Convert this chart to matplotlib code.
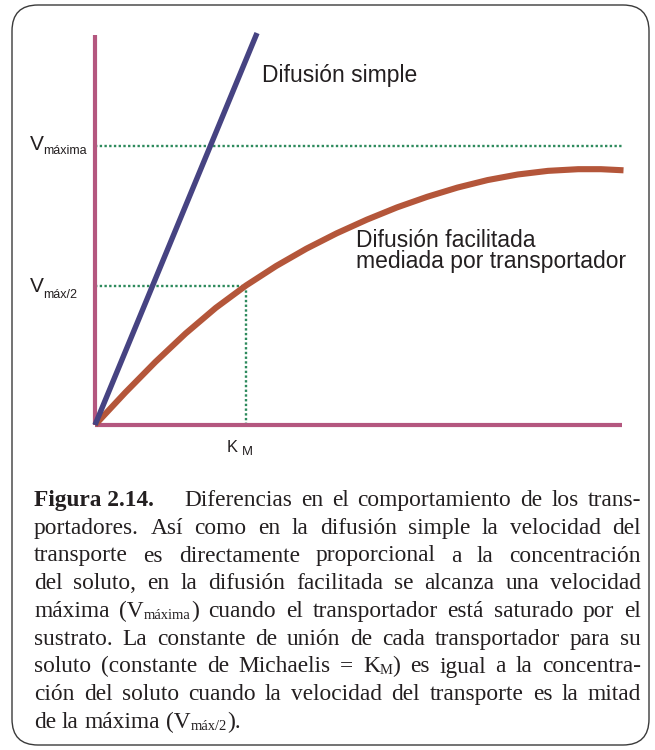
import matplotlib
matplotlib.use("Agg")
import matplotlib.pyplot as plt
from matplotlib.patches import FancyBboxPatch
from matplotlib.font_manager import FontProperties

# ---- data ----
conc_simple = [0.0, 1.073]
vel_simple = [0.0, 1.405]

conc_facil = [0.0, 0.2, 0.4, 0.6, 0.8, 1.0, 1.2, 1.4, 1.6, 1.8, 2.0,
              2.2, 2.4, 2.6, 2.8, 3.0, 3.2, 3.35, 3.5]
vel_facil = [0.0, 0.116, 0.226, 0.328, 0.420, 0.500, 0.570, 0.632, 0.687, 0.736, 0.780,
             0.818, 0.851, 0.878, 0.898, 0.911, 0.917, 0.917, 0.913]

v_max = 1.0
v_half = 0.5
k_m = 1.0
x_max = 3.49
y_max = 1.398

label_simple = "Difusión simple"
label_facil = ["Difusión facilitada", "mediada por transportador"]

# caption: each line is a list of words, each word a list of (text, style)
caption = [
    [[("Figura 2.14.", "b")], [("Diferencias", "n")], [("en", "n")], [("el", "n")], [("comportamiento", "n")],
     [("de", "n")], [("los", "n")], [("trans-", "n")]],
    "portadores. Así como en la difusión simple la velocidad del",
    "transporte es directamente proporcional a la concentración",
    "del soluto, en la difusión facilitada se alcanza una velocidad",
    [[("máxima", "n")], [("(V", "n"), ("máxima", "s"), (")", "n")], [("cuando", "n")], [("el", "n")],
     [("transportador", "n")], [("está", "n")], [("saturado", "n")], [("por", "n")], [("el", "n")]],
    "sustrato. La constante de unión de cada transportador para su",
    [[("soluto", "n")], [("(constante", "n")], [("de", "n")], [("Michaelis", "n")], [("=", "n")],
     [("K", "n"), ("M", "s"), (")", "n")], [("es", "n")], [("igual", "n")], [("a", "n")], [("la", "n")],
     [("concentra-", "n")]],
    "ción del soluto cuando la velocidad del transporte es la mitad",
    [[("de", "n")], [("la", "n")], [("máxima", "n")], [("(V", "n"), ("máx/2", "s"), (").", "n")]],
]

# ---- colours ----
pink = "#b4577f"
blue = "#464382"
orange = "#b4563a"
green = "#2d8a5c"
ink = "#231f20"

W, H = 655, 750
fig = plt.figure(figsize=(W / 100, H / 100), dpi=100)

# background layer in pixel coordinates (frame + caption)
bg = fig.add_axes([0, 0, 1, 1])
bg.set_xlim(0, W)
bg.set_ylim(H, 0)
bg.axis("off")
frame = FancyBboxPatch((12, 5), 637, 740, boxstyle="round,pad=0,rounding_size=26",
                       fc="white", ec="#3a3a3a", lw=1.0)
bg.add_patch(frame)

# ---- chart ----
ax = fig.add_axes([95 / W, (H - 425) / H, 527 / W, 390 / H])
ax.patch.set_alpha(0)
ax.set_xlim(0, x_max)
ax.set_ylim(0, y_max)
ax.set_xticks([])
ax.set_yticks([])
for s in ["top", "right"]:
    ax.spines[s].set_visible(False)
for s in ["left", "bottom"]:
    ax.spines[s].set_color(pink)
    ax.spines[s].set_linewidth(3.0)
    ax.spines[s].set_capstyle("butt")

dot = (0, (1, 1))
ax.plot([0, x_max], [v_max, v_max], color=green, lw=1.7, ls=dot, clip_on=False)
ax.plot([0, k_m], [v_half, v_half], color=green, lw=1.7, ls=dot)
ax.plot([k_m, k_m], [0, v_half], color=green, lw=1.7, ls=dot)

ax.plot(conc_facil, vel_facil, color=orange, lw=4.4, solid_capstyle="butt",
        solid_joinstyle="round", clip_on=False, zorder=3)
ax.plot(conc_simple, vel_simple, color=blue, lw=3.9, solid_capstyle="butt", clip_on=False, zorder=4)

sans = "Liberation Sans"
ax.text(1.106, 1.230, label_simple, fontsize=16.5, family=sans, color=ink, va="baseline")
ax.text(1.728, 0.638, label_facil[0], fontsize=16.5, family=sans, color=ink, va="baseline")
ax.text(1.728, 0.563, label_facil[1], fontsize=16.5, family=sans, color=ink, va="baseline")


def axis_label(main, sub, xy, coords, off_main, off_sub, size_main, size_sub):
    ax.annotate(main, xy=xy, xycoords=coords, xytext=off_main, textcoords="offset pixels",
                fontsize=size_main, family=sans, color=ink, va="baseline", ha="left",
                annotation_clip=False)
    ax.annotate(sub, xy=xy, xycoords=coords, xytext=off_sub, textcoords="offset pixels",
                fontsize=size_sub, family=sans, color=ink, va="baseline", ha="left",
                annotation_clip=False)


ycoords = ("axes fraction", "data")
axis_label("V", "máxima", (0, v_max), ycoords, (-65, -4), (-52, -8), 15, 9)
axis_label("V", "máx/2", (0, v_half), ycoords, (-65, -6.5), (-52, -12.5), 15, 9)
axis_label("K", "M", (k_m, 0), ("data", "axes fraction"), (-19, -27), (-4, -30), 11.8, 9.4)

# ---- caption, justified ----
renderer = fig.canvas.get_renderer()
fs = 16.8
fp_n = FontProperties(family="Liberation Serif", size=fs)
fp_b = FontProperties(family="Liberation Serif", size=fs, weight="bold")
fp_s = FontProperties(family="Liberation Serif", size=fs * 0.62)
props = {"n": fp_n, "b": fp_b, "s": fp_s}


def seg_width(text, style):
    w, h, d = renderer.get_text_width_height_descent(text, props[style], ismath=False)
    return w


left, right = 34, 641
base0, step = 506, 27.75
space = seg_width("a a", "n") - seg_width("aa", "n")

for i, line in enumerate(caption):
    if isinstance(line, str):
        line = [[(w, "n")] for w in line.split(" ")]
    widths = [sum(seg_width(t, st) for t, st in word) for word in line]
    gaps = [space] * (len(line) - 1)
    if i == 0:
        gaps[0] = 30
    if i < len(caption) - 1:
        free = right - left - sum(widths) - gaps[0] * (i == 0)
        n = len(gaps) - (i == 0)
        g = free / n
        gaps = ([gaps[0]] if i == 0 else []) + [g] * n
    x = left
    y = base0 + step * i
    for j, word in enumerate(line):
        for t, st in word:
            dy = 2 if st == "s" else 0
            bg.text(x, y + dy, t, fontproperties=props[st], color=ink, va="baseline", ha="left")
            x += seg_width(t, st)
        if j < len(gaps):
            x += gaps[j]

fig.savefig("out.png", dpi=100)
